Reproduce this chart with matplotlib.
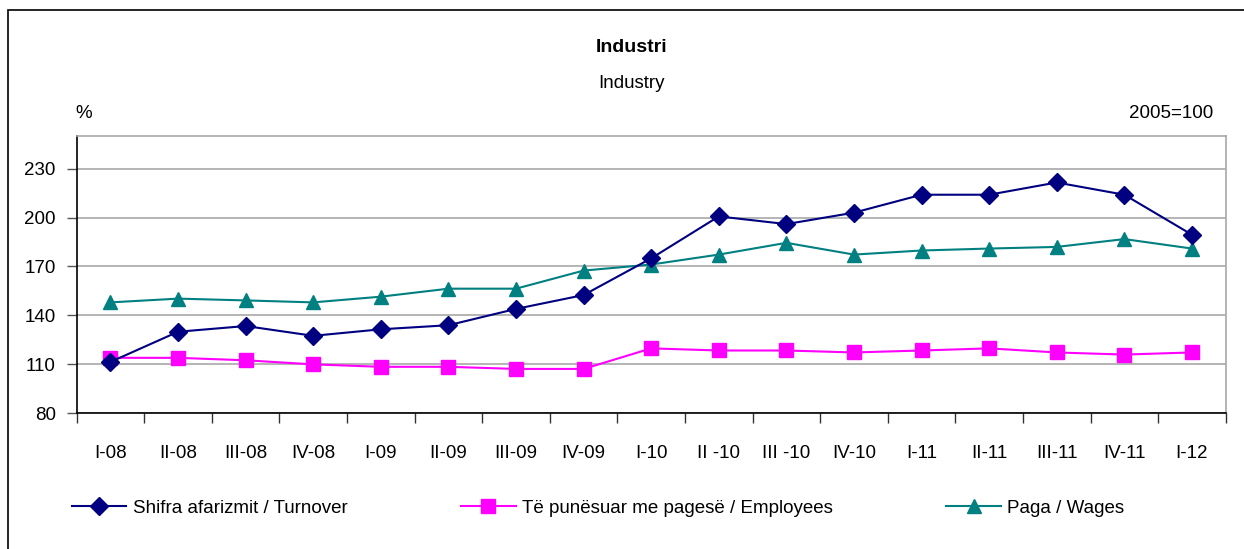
import matplotlib
matplotlib.use("Agg")
import matplotlib.pyplot as plt
from matplotlib.patches import Rectangle
import numpy as np

plt.rcParams['font.family'] = ['Liberation Sans Narrow', 'Liberation Sans', 'DejaVu Sans']

categories = ["I-08", "II-08", "III-08", "IV-08", "I-09", "II-09", "III-09", "IV-09",
              "I-10", "II -10", "III -10", "IV-10", "I-11", "II-11", "III-11", "IV-11", "I-12"]
turnover = [111.5, 130, 133.5, 127.5, 131.5, 134, 144, 152.5,
            175, 200.7, 196, 203, 214, 214, 221.5, 214, 189.5]
employees = [114, 114, 112.5, 110, 108.5, 108.5, 107.2, 107.2,
             119.8, 118.5, 118.5, 117.3, 118.5, 119.8, 117.3, 116, 117.3]
wages = [148, 150.3, 149.2, 148, 151.5, 156.4, 156.4, 167.5,
         171.2, 177.3, 184.5, 177.3, 179.8, 181, 182, 186.8, 181]
yticks = [80, 110, 140, 170, 200, 230]
labels = ["Shifra afarizmit / Turnover", "Të punësuar me pagesë / Employees", "Paga / Wages"]

W, H = 1244, 549
fig = plt.figure(figsize=(W / 100, H / 100), dpi=100)
fig.patches.append(Rectangle((8 / W, -0.2), 1.2, 1.2 - 10 / H, transform=fig.transFigure,
                             fill=False, edgecolor='black', linewidth=1.2))

ax = fig.add_axes([76.7 / W, 1 - 413.3 / H, (1225.7 - 76.7) / W, (413.3 - 136) / H])
x = np.arange(len(categories))
l1, = ax.plot(x, turnover, color='#000080', marker='D', markersize=9, linewidth=1.5, zorder=4)
l2, = ax.plot(x, employees, color='#FF00FF', marker='s', markersize=9.5, linewidth=1.5, zorder=3)
l3, = ax.plot(x, wages, color='#008080', marker='^', markersize=10, linewidth=1.5, zorder=3)

ax.set_xlim(-0.5, len(categories) - 0.5)
ax.set_ylim(80, 250)
ax.set_yticks(yticks)
ax.set_yticklabels([str(v) for v in yticks], fontsize=13.5)
ax.set_xticks(x)
ax.set_xticklabels(categories, fontsize=13.5)
ax.set_xticks(np.arange(len(categories) + 1) - 0.5, minor=True)
ax.tick_params(axis='x', which='major', length=0, pad=23)
ax.tick_params(axis='x', which='minor', length=7, width=1, color='#333333', direction='out')
ax.tick_params(axis='y', which='major', length=7, width=1, color='#555555', pad=8)
ax.grid(axis='y', color='#A8A8A8', linewidth=1.2, zorder=0)
ax.set_axisbelow(True)
for s in ['top', 'right']:
    ax.spines[s].set_color('#A8A8A8')
    ax.spines[s].set_linewidth(1.2)
for s in ['left', 'bottom']:
    ax.spines[s].set_color('black')
    ax.spines[s].set_linewidth(1.2)

fig.text(632 / W, 1 - 48 / H, "Industri", ha='center', va='center', fontsize=14, fontweight='bold')
fig.text(632 / W, 1 - 84 / H, "Industry", ha='center', va='center', fontsize=13.5)
fig.text(84 / W, 1 - 113 / H, "%", ha='center', va='center', fontsize=13.5)
fig.text(1213 / W, 1 - 113 / H, "2005=100", ha='right', va='center', fontsize=13.5)

fig.legend([l1, l2, l3], labels, loc='center left', bbox_to_anchor=(72 / W, 1 - 508 / H),
           ncol=3, frameon=False, fontsize=13.5, handlelength=2.9, handletextpad=0.35,
           columnspacing=6.05, borderpad=0, borderaxespad=0)

fig.savefig("out.png", dpi=100)
